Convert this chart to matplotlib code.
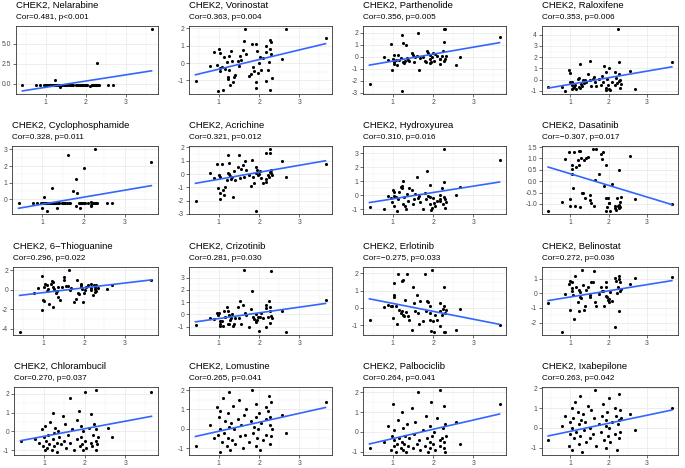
import numpy as np
import matplotlib
matplotlib.use('Agg')
import matplotlib.pyplot as plt
from matplotlib.ticker import AutoMinorLocator

plt.rcParams['font.family'] = ['Liberation Sans', 'DejaVu Sans']
plt.rcParams['axes.unicode_minus'] = False

# CHEK2 expression (shared by all panels)
chek2 = np.array([
    0.42, 0.77, 0.87, 0.96, 0.98, 1.00, 1.03, 1.03, 1.04, 1.08,
    1.10, 1.12, 1.15, 1.20, 1.22, 1.23, 1.25, 1.25, 1.27, 1.31,
    1.33, 1.35, 1.37, 1.41, 1.47, 1.50, 1.52, 1.55, 1.60, 1.63,
    1.65, 1.68, 1.75, 1.81, 1.82, 1.85, 1.88, 1.92, 1.92, 1.93,
    1.95, 1.97, 2.00, 2.02, 2.04, 2.10, 2.17, 2.17, 2.18, 2.22,
    2.24, 2.27, 2.27, 2.28, 2.29, 2.30, 2.33, 2.57, 2.68, 3.65])

drugs = ['Nelarabine', 'Vorinostat', 'Parthenolide', 'Raloxifene',
         'Cyclophosphamide', 'Acrichine', 'Hydroxyurea', 'Dasatinib',
         '6\u2212Thioguanine', 'Crizotinib', 'Erlotinib', 'Belinostat',
         'Chlorambucil', 'Lomustine', 'Palbociclib', 'Ixabepilone']
cors = ['0.481', '0.363', '0.356', '0.353', '0.328', '0.321', '0.310', '\u22120.307',
        '0.296', '0.281', '\u22120.275', '0.272', '0.270', '0.265', '0.264', '0.263']
pvals = ['p<0.001', 'p=0.004', 'p=0.005', 'p=0.006', 'p=0.011', 'p=0.012', 'p=0.016', 'p=0.017',
         'p=0.022', 'p=0.030', 'p=0.033', 'p=0.036', 'p=0.037', 'p=0.041', 'p=0.041', 'p=0.042']

nelarabine = [
    -0.20, -0.21, -0.19, -0.20, -0.22, -0.20, -0.18, -0.21, -0.20, -0.19,
    -0.22, -0.20, -0.21, -0.19, -0.20, 0.40, -0.20, -0.22, -0.19, -0.20,
    -0.21, -0.38, -0.20, -0.19, -0.21, -0.20, -0.22, -0.20, -0.19, -0.20,
    -0.21, -0.20, -0.19, -0.22, -0.20, -0.21, -0.20, -0.19, -0.20, -0.21,
    -0.20, -0.22, -0.20, -0.19, -0.21, -0.30, -0.20, -0.22, -0.19, -0.20,
    -0.21, -0.20, -0.19, 2.60, -0.20, -0.21, -0.20, -0.20, -0.21, 6.80]
vorinostat = [
    -1.04, -0.17, 0.65, -0.08, -1.60, 0.79, 0.60, -0.30, -0.48, -0.20,
    -1.52, 0.33, -0.35, 0.08, -0.92, -0.80, -0.40, 0.40, -1.27, 0.71,
    0.10, -1.06, -0.80, -0.70, 0.12, -0.17, 0.40, 0.17, 0.75, 1.29,
    1.96, 0.52, -0.77, -0.60, 1.08, -0.21, -0.48, -1.08, -1.42, 1.12,
    0.67, -0.56, -0.02, 0.37, -0.40, 0.30, -1.02, 0.65, 0.96, -0.42,
    0.05, -1.56, 0.79, 1.33, 1.23, 0.52, -0.83, 0.25, 1.94, 1.42]
parthenolide = [
    -2.30, -0.05, -0.28, 1.03, -1.10, -0.20, -0.60, 0.15, -0.45, -0.28,
    -0.70, 0.10, -0.30, -0.08, 1.80, -2.85, 1.10, -0.42, -0.55, -0.33,
    0.95, -0.14, -0.25, -0.36, 0.33, 0.15, -0.42, 0.00, 0.05, 1.98,
    -1.10, -0.14, 0.00, -0.36, -0.45, 0.50, 0.33, -0.56, -0.22, 0.10,
    -0.40, 0.00, 0.28, -0.33, 0.20, 0.05, -0.22, -0.60, -0.22, 0.05,
    0.50, 2.30, 1.23, -0.36, -0.22, 2.28, 0.05, -0.70, 0.00, 1.60]
raloxifene = [
    -0.66, -0.66, -1.00, 0.84, -0.20, 0.60, -0.20, -0.50, -0.80, -0.72,
    -0.66, -0.50, -0.85, 0.10, 0.18, -0.66, -0.75, 1.38, -0.36, -0.60,
    -0.06, -0.30, 0.00, -0.20, 0.54, -0.06, 1.62, -0.57, 0.10, 0.24,
    -0.20, -0.60, 0.03, -0.50, 0.30, -0.20, 1.20, 0.70, -0.72, -0.96,
    0.10, -0.45, 1.00, -0.84, -0.96, -0.20, 0.72, -0.50, 0.18, -0.30,
    4.50, 1.56, 0.50, -0.12, -0.75, -0.06, -0.40, 0.81, -0.84, 1.60]
cyclophosphamide = [
    -0.23, -0.22, -0.24, -0.23, -0.52, -0.23, 0.16, -0.22, -0.24, -0.23,
    -0.70, -0.23, -0.22, -0.24, 0.70, -0.23, -0.22, -0.23, -0.24, -0.23,
    -0.22, -0.50, -0.23, -0.24, -0.22, -0.23, -0.23, -0.24, -0.22, 2.66,
    -0.23, -0.24, 0.52, -0.40, 1.22, 0.40, -0.23, -0.50, -0.22, -0.24,
    -0.23, -0.22, -0.23, 1.90, -0.24, -0.23, -0.14, -0.35, -0.40, -0.23,
    -0.22, 3.02, -0.24, -0.23, -0.22, -0.23, -0.24, -0.23, -0.23, 2.26]
acrichine = [
    -2.00, 0.10, -0.27, 0.72, -1.08, -0.07, -1.40, -0.20, -1.88, 0.72,
    -1.20, -1.58, -1.00, -0.45, 0.05, 1.43, 0.80, 0.00, -0.15, -0.40,
    -0.25, -1.70, 0.22, -0.45, 0.50, 1.43, -0.33, 0.35, 0.67, -0.25,
    1.00, 0.30, -0.07, -0.90, 1.05, -0.20, -0.70, 0.05, -2.78, 0.50,
    0.30, -0.10, 0.00, 0.20, -0.30, -0.70, -0.57, 1.60, -0.38, -0.07,
    -0.20, 1.60, 1.88, 0.17, 0.05, 0.30, -0.10, 0.97, -0.20, 0.75]
hydroxyurea = [
    -0.87, -1.00, -0.05, -0.17, -0.46, 0.34, 0.19, -0.77, -0.05, -0.14,
    -1.13, -0.29, 0.20, 0.58, 0.67, 0.50, -0.65, 1.03, -0.10, -0.77,
    -1.00, 0.07, -0.40, 0.50, 0.34, -0.65, -0.29, 0.10, 1.30, -0.22,
    -0.05, -0.46, -1.00, 0.14, -0.29, 1.75, -0.05, 0.75, -0.65, -0.10,
    -1.10, -0.94, -0.17, -0.58, -0.77, -0.39, 0.02, -0.41, -0.30, 0.50,
    -0.60, 3.30, 0.95, -0.10, -0.94, -0.30, -0.50, 0.02, 0.60, 2.55]
dasatinib = [
    -1.31, -0.93, 0.99, 1.27, -1.09, -0.79, 0.53, 0.32, 0.72, -0.28,
    1.27, -1.09, 0.62, 0.94, 0.72, 1.32, 1.32, -1.12, 1.02, -0.53,
    -0.50, 0.91, -0.75, 1.02, 1.06, -0.62, -0.85, -0.97, 1.41, -1.09,
    0.03, 1.41, 0.32, 1.21, 0.97, 1.28, -0.21, -0.75, -1.30, 0.69,
    -1.12, -0.75, -0.94, -0.94, -1.30, -0.12, -1.19, -1.09, -1.27, -0.75,
    -1.09, 0.50, -1.19, -1.05, -0.90, -1.15, -0.70, 1.12, -0.78, -1.00]
thioguanine = [
    -4.30, -0.34, 0.17, 1.42, -2.10, -1.00, -1.20, 0.27, 0.54, -0.14,
    0.44, 0.10, -1.42, 0.61, 0.85, -1.76, 0.27, 0.78, 0.10, -0.34,
    -0.14, 0.30, -0.75, -1.00, 0.27, 1.00, 1.27, 0.34, 0.34, 2.00,
    0.00, 0.20, -1.25, -0.90, 0.95, -0.34, -0.47, 0.61, 0.44, 0.27,
    0.10, -1.25, -0.34, -0.07, 0.27, 0.51, 0.00, 0.20, 0.54, -0.58,
    0.44, -0.24, 0.10, 0.30, -0.10, 0.45, 0.20, 0.10, 0.44, 0.95]
crizotinib = [
    -0.87, -0.27, -0.33, 0.14, -0.05, 0.14, -0.52, -0.80, -0.95, -0.52,
    -0.95, 0.30, -0.20, 0.60, 0.30, -0.74, -0.05, -0.80, -0.41, -0.25,
    0.00, -0.95, -0.74, -0.30, 0.60, -0.25, 1.12, -0.74, 0.76, 3.62,
    0.14, -0.05, -1.06, 0.41, 1.94, -0.19, -0.33, 0.00, -0.52, -0.60,
    -0.41, -0.20, -1.33, -0.19, 0.14, -0.30, -1.06, 0.76, 0.49, -0.19,
    1.12, 0.60, -0.68, 0.30, 3.57, -0.14, -0.30, 0.30, -1.42, 1.17]
erlotinib = [
    -0.73, 0.04, 0.19, 0.08, 0.13, -0.58, 0.77, 0.62, 1.42, 0.08,
    -0.96, 1.96, -0.12, -0.31, -0.19, 1.54, 1.62, -0.44, -0.50, 0.46,
    -0.25, 1.96, -0.50, -0.69, -1.27, 1.19, 0.27, -0.19, 0.77, -0.31,
    -0.92, 0.42, -0.77, 1.96, -0.19, 0.42, 0.33, 0.08, -0.31, -0.69,
    -1.35, 2.19, -0.77, -1.40, -0.44, -0.73, -1.08, 0.27, -0.19, -0.44,
    -0.06, 0.08, -1.40, 1.19, -1.40, -0.30, -0.10, -1.27, -0.06, -1.00]
belinostat = [
    -0.65, -2.64, -0.05, 0.66, -1.17, 0.84, 0.74, 0.34, 0.14, -0.09,
    -1.74, 1.20, 0.41, -0.61, 0.23, -1.22, 0.07, -0.23, -0.32, 1.58,
    0.59, -1.13, -0.90, 0.20, 0.45, -0.09, -0.27, 0.74, 0.74, 1.49,
    -0.61, -0.90, -0.05, 0.41, 0.18, 0.14, -0.90, 0.45, 0.74, -0.16,
    -0.23, -0.45, -0.61, -0.38, 0.10, -0.50, -2.30, 1.02, 0.84, 0.00,
    0.45, -1.22, 1.20, 0.97, 0.74, 0.18, 0.29, 0.63, 1.02, 1.08]
chlorambucil = [
    -0.50, -0.40, -0.60, 0.10, -0.80, -0.30, -1.00, 0.30, -0.50, -0.90,
    -0.20, -0.70, 0.50, -1.00, 1.00, -0.40, -0.10, -0.80, 0.20, -0.60,
    -1.10, 0.00, -0.30, -0.70, 0.80, -0.50, 0.40, -0.90, -0.20, 1.80,
    -0.60, 0.10, -1.00, 0.60, -0.40, 1.10, -0.80, -0.30, 0.30, -0.70,
    -1.00, 0.00, 2.10, -0.50, -0.90, 0.20, -0.60, 0.90, -0.80, -0.20,
    0.40, 2.20, -1.00, -0.50, 0.10, -0.70, -0.30, 0.20, -0.30, 2.10]
lomustine = [
    -0.90, 0.20, -0.50, 1.10, -0.30, 0.60, -1.20, 0.00, 0.90, -0.70,
    1.60, -0.20, 0.40, -0.90, 0.80, -0.50, 1.90, 0.10, -1.10, 0.30,
    -0.60, 1.20, 0.00, -0.80, 0.50, 1.50, -0.40, 0.20, -1.00, 0.70,
    -0.30, 1.00, -0.70, 0.40, 2.00, -0.20, 0.10, -0.90, 0.60, 1.30,
    -0.50, 0.00, 0.80, -1.10, 0.30, -0.60, 1.10, 0.50, -0.30, 0.90,
    1.70, -0.80, 0.20, 0.60, -0.40, 1.40, 0.00, 0.70, -0.20, 1.40]
palbociclib = [
    -0.80, -0.50, 0.30, -0.90, -0.20, 1.40, -0.70, -0.40, 0.10, -1.00,
    -0.60, 0.60, -0.30, -0.80, 1.00, -0.50, -0.90, 0.20, -0.60, -0.20,
    -1.00, 0.40, -0.70, -0.30, 1.20, -0.80, -0.10, 0.50, -0.60, 2.00,
    -0.40, -0.90, 0.10, -0.70, 0.80, -0.30, -1.00, 0.30, -0.50, -0.80,
    1.50, -0.20, -0.60, 0.00, -0.90, 0.70, -0.40, -0.70, 2.10, -0.30,
    0.20, -0.80, 1.30, -0.50, -1.00, 0.40, -0.20, 0.50, -0.60, 1.40]
ixabepilone = [
    -0.60, 0.10, 0.60, -0.90, 0.30, -0.30, 1.00, -1.10, 0.00, 0.50,
    -0.50, 1.30, -0.20, 0.80, -0.80, 0.20, 1.60, -0.40, 0.40, -1.20,
    0.70, -0.10, 0.30, -0.70, 1.10, 0.00, -0.50, 0.90, -0.30, 0.50,
    1.90, -0.90, 0.20, -0.20, 0.60, 1.20, -0.60, 0.10, -1.00, 0.40,
    0.80, -0.40, 1.50, 0.00, -0.70, 0.30, 1.00, -0.30, 0.60, -1.10,
    0.20, 1.70, -0.50, 0.40, 0.90, -0.20, 0.50, 0.70, -0.10, 1.00]

responses = [nelarabine, vorinostat, parthenolide, raloxifene,
             cyclophosphamide, acrichine, hydroxyurea, dasatinib,
             thioguanine, crizotinib, erlotinib, belinostat,
             chlorambucil, lomustine, palbociclib, ixabepilone]

# fitted line, value at lowest and highest CHEK2
fit_start = [-0.90, -0.67, -0.70, -0.75, -0.54, -0.70, -0.53, 0.62,
             -0.58, -0.60, 0.52, -0.50, -0.50, -0.40, -0.60, -0.40]
fit_end = [1.60, 1.12, 1.17, 1.14, 0.82, 1.00, 0.94, -1.03,
           1.00, 0.90, -0.96, 0.86, 0.80, 1.10, 0.90, 0.90]

yticks = [[0, 2.5, 5], [-1, 0, 1, 2], [-3, -2, -1, 0, 1, 2], [-1, 0, 1, 2, 3, 4],
          [0, 1, 2, 3], [-3, -2, -1, 0, 1, 2], [-1, 0, 1, 2, 3], [-1, -0.5, 0, 0.5, 1, 1.5],
          [-4, -2, 0, 2], [-1, 0, 1, 2, 3], [-1, 0, 1, 2], [-2, -1, 0, 1],
          [-1, 0, 1, 2], [-1, 0, 1, 2], [-1, 0, 1, 2], [-1, 0, 1, 2]]
decimal_ticks = {0, 7}

W, H = 685, 468
fig = plt.figure(figsize=(W / 100, H / 100), dpi=100)

row_top = [26, 146, 267, 387]
row_bottom = [94, 214, 335, 455]
first_left = [16, 12, 13, 14]
col_left = [None, 189, 363, 542]
col_right = [158, 332, 506, 678]

for i, drug in enumerate(drugs):
    r, c = divmod(i, 4)
    left = first_left[r] if c == 0 else col_left[c]
    ax = fig.add_axes([left / W, 1 - row_bottom[r] / H,
                       (col_right[c] - left) / W, (row_bottom[r] - row_top[r]) / H])
    y = np.array(responses[i])
    ax.scatter(chek2, y, s=5, color='black', linewidths=0, zorder=3)
    ax.plot([chek2.min(), chek2.max()], [fit_start[i], fit_end[i]],
            color='#3366FF', lw=1.2, zorder=4)
    ax.margins(0.05)
    ax.set_xticks([1, 2, 3])
    ax.set_yticks(yticks[i])
    if i in decimal_ticks:
        ax.set_yticklabels([f'{t:.1f}' for t in yticks[i]])
    else:
        ax.set_yticklabels([f'{t:g}' for t in yticks[i]])
    ax.xaxis.set_minor_locator(AutoMinorLocator(2))
    ax.yaxis.set_minor_locator(AutoMinorLocator(2))
    ax.grid(which='major', color='#EBEBEB', lw=0.6, zorder=0)
    ax.grid(which='minor', color='#F2F2F2', lw=0.35, zorder=0)
    ax.set_axisbelow(True)
    for s in ax.spines.values():
        s.set_color('#333333')
        s.set_linewidth(0.6)
    ax.tick_params(which='major', length=2, width=0.5, color='#333333',
                   labelsize=4.9, labelcolor='#4D4D4D', pad=1.5)
    ax.tick_params(which='minor', length=0)
    ax.annotate(f'CHEK2, {drug}', xy=(0, 1), xycoords='axes fraction',
                xytext=(0, 15), textcoords='offset points',
                ha='left', va='center', fontsize=6.8, color='black')
    ax.annotate(f'Cor={cors[i]}, {pvals[i]}', xy=(0, 1), xycoords='axes fraction',
                xytext=(0, 6.3), textcoords='offset points',
                ha='left', va='center', fontsize=5.9, color='black')

fig.savefig('out.png', dpi=100)
